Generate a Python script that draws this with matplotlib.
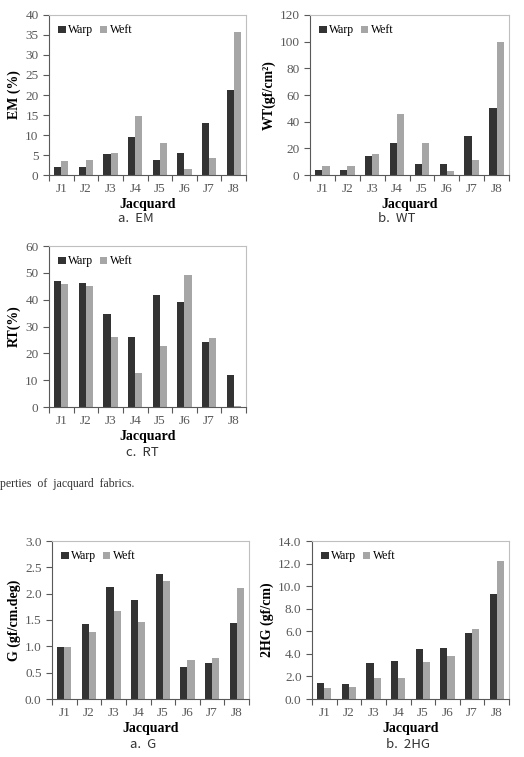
import numpy as np
import matplotlib
matplotlib.use("Agg")
import matplotlib.pyplot as plt

plt.rcParams['font.family'] = ['Liberation Serif', 'DejaVu Serif']

samples = ['J1', 'J2', 'J3', 'J4', 'J5', 'J6', 'J7', 'J8']

em_warp = [2.1, 2.1, 5.3, 9.5, 3.8, 5.6, 13.0, 21.2]
em_weft = [3.5, 3.7, 5.6, 14.7, 8.0, 1.5, 4.2, 35.7]

wt_warp = [3.5, 3.5, 14.0, 24.0, 8.5, 8.0, 29.5, 50.0]
wt_weft = [6.5, 6.5, 15.5, 46.0, 24.0, 3.0, 11.0, 99.5]

rt_warp = [46.8, 46.2, 34.7, 26.2, 41.8, 39.0, 24.4, 11.8]
rt_weft = [46.0, 45.0, 26.2, 12.5, 22.8, 49.2, 25.7, 0.3]

g_warp = [0.98, 1.43, 2.12, 1.88, 2.38, 0.61, 0.68, 1.44]
g_weft = [0.98, 1.27, 1.68, 1.47, 2.25, 0.75, 0.77, 2.11]

hg_warp = [1.45, 1.35, 3.15, 3.4, 4.45, 4.5, 5.85, 9.3]
hg_weft = [1.0, 1.05, 1.9, 1.85, 3.3, 3.8, 6.2, 12.25]

W, H = 524, 757
fig = plt.figure(figsize=(W / 100, H / 100), dpi=100)

warp_col = '#333333'
weft_col = '#a6a6a6'
frame_col = '#bfbfbf'
tick_col = '#595959'


def bar_panel(rect, cap_xy, warp, weft, ylabel, ymax, ystep, fmt, caption):
    ax = fig.add_axes([rect[0] / W, 1 - rect[3] / H, (rect[2] - rect[0]) / W, (rect[3] - rect[1]) / H])
    x = np.arange(len(samples))
    bw = 0.29
    ax.bar(x - bw / 2, warp, bw, color=warp_col, label='Warp')
    ax.bar(x + bw / 2, weft, bw, color=weft_col, label='Weft')
    ax.set_xlim(-0.5, len(samples) - 0.5)
    ax.set_ylim(0, ymax)
    yt = np.arange(0, ymax + ystep / 2, ystep)
    ax.set_yticks(yt)
    ax.set_yticklabels([fmt.format(v) for v in yt])
    ax.set_xticks(np.arange(-0.5, len(samples)), minor=False)
    ax.set_xticklabels([])
    ax.set_xticks(x, minor=True)
    ax.set_xticklabels(samples, minor=True)
    ax.tick_params(axis='x', which='minor', length=0, pad=6, labelsize=9.5, labelcolor=tick_col)
    ax.tick_params(axis='x', which='major', length=4, color=tick_col)
    ax.tick_params(axis='y', length=4, color=tick_col, labelsize=9.5, labelcolor=tick_col)
    for s in ax.spines.values():
        s.set_color(frame_col)
        s.set_linewidth(0.8)
    ax.spines['bottom'].set_color(tick_col)
    ax.spines['left'].set_color(tick_col)
    ax.set_ylabel(ylabel, fontsize=10, fontweight='bold', labelpad=3)
    ax.set_xlabel('Jacquard', fontsize=10, fontweight='bold', labelpad=2)
    ax.legend(loc='upper left', frameon=False, ncol=2, fontsize=8.5, handlelength=0.6,
              handleheight=0.6, handletextpad=0.2, columnspacing=0.6, borderaxespad=0.4)
    fig.text(cap_xy[0] / W, 1 - cap_xy[1] / H, caption, ha='center', va='center',
             fontsize=9.5, family=['Noto Sans CJK KR', 'DejaVu Sans'], color='#333333')
    return ax


# rect = (left, top, right, bottom) in px, caption centre in px
bar_panel((49, 15, 246, 175), (136, 219), em_warp, em_weft, 'EM (%)', 40, 5, '{:.0f}', 'a.  EM')
bar_panel((310, 15, 509, 175), (397, 219), wt_warp, wt_weft, 'WT(gf/cm²)', 120, 20, '{:.0f}', 'b.  WT')
bar_panel((49, 246, 246, 407), (142, 452), rt_warp, rt_weft, 'RT(%)', 60, 10, '{:.0f}', 'c.  RT')
bar_panel((52, 541, 249, 699), (143, 745), g_warp, g_weft, 'G (gf/cm.deg)', 3.0, 0.5, '{:.1f}', 'a.  G')
bar_panel((312, 541, 509, 699), (408, 745), hg_warp, hg_weft, '2HG (gf/cm)', 14.0, 2.0, '{:.1f}', 'b.  2HG')

fig.text(0 / W, 1 - 484 / H, 'perties  of  jacquard  fabrics.', ha='left', va='center',
         fontsize=8.5, color='#333333')

fig.savefig('out.png', dpi=100)
